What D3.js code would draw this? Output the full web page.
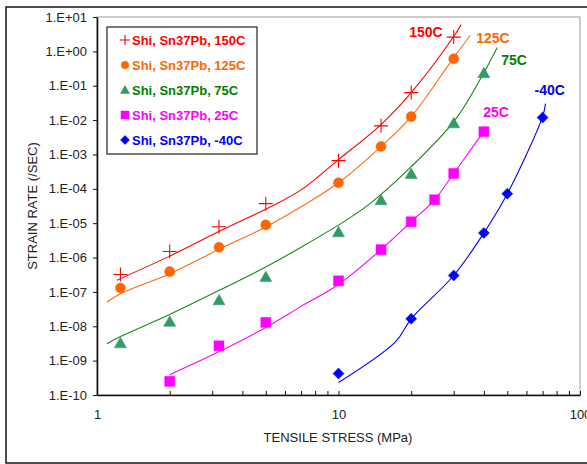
<!DOCTYPE html>
<html>
<head>
<meta charset="utf-8">
<script src="https://cdn.jsdelivr.net/npm/d3@7"></script>
<style>
body { margin:0; background:#fff; }
svg text { font-family: "Liberation Sans", Arial, sans-serif; }
</style>
</head>
<body>
<div id="chart"></div>
<script>
// measured points (stress MPa, strain rate /sec)
var stress150 = [1.25, 2, 3.2, 5, 10, 15, 20, 30];
var rate150 = [3.2e-7, 1.5e-6, 7.9e-6, 3.7e-5, 6.6e-4, 6.8e-3, 0.063, 2.6];
var stress125 = [1.25, 2, 3.2, 5, 10, 15, 20, 30];
var rate125 = [1.3e-7, 3.9e-7, 2.0e-6, 8.9e-6, 1.5e-4, 1.7e-3, 0.0126, 0.61];
var stress75 = [1.25, 2, 3.2, 5, 10, 15, 20, 30, 40];
var rate75 = [3.3e-9, 1.4e-8, 5.9e-8, 2.8e-7, 5.6e-6, 4.8e-5, 2.8e-4, 8.3e-3, 0.24];
var stress25 = [2, 3.2, 5, 10, 15, 20, 25, 30, 40];
var rate25 = [2.5e-10, 2.7e-9, 1.3e-8, 2.1e-7, 1.7e-6, 1.1e-5, 4.8e-5, 2.8e-4, 4.6e-3];
var stressM40 = [10, 20, 30, 40, 50, 70];
var rateM40 = [4.2e-10, 1.65e-8, 3.0e-7, 5.2e-6, 7.2e-5, 0.0118];

// fitted curves
var fit150 = [[1.21, 2.2e-7], [2, 1.1e-6], [3.24, 6.0e-6], [5.02, 2.6e-5], [7, 9.3e-5], [10, 7.1e-4], [15, 7.4e-3], [20, 0.063], [30, 2.7], [32.2, 6.0]];
var fit125 = [[1.1, 5.1e-8], [1.25, 8.9e-8], [2, 3.4e-7], [3.24, 1.8e-6], [5.02, 7.9e-6], [7, 3.0e-5], [10, 1.5e-4], [15, 1.7e-3], [20, 0.0126], [30, 0.66], [35.1, 2.9]];
var fit75 = [[1.1, 3.1e-9], [1.25, 5.0e-9], [2, 2.2e-8], [3.24, 1.15e-7], [5.02, 5.4e-7], [7, 2.0e-6], [10.66, 1.17e-5], [13.5, 3.7e-5], [20, 4.4e-4], [30.4, 0.0102], [40, 0.24], [45.4, 1.3]];
var fit25 = [[2, 3.9e-10], [3.24, 1.9e-9], [5.02, 9.4e-9], [7, 3.8e-8], [10, 1.65e-7], [15, 1.7e-6], [20, 1.1e-5], [25, 4.8e-5], [30, 2.8e-4], [40, 4.6e-3], [41.3, 6.0e-3]];
var fitM40 = [[10, 2.3e-10], [17.2, 3.5e-9], [20, 1.65e-8], [30, 3.0e-7], [40, 5.2e-6], [50, 7.2e-5], [70, 0.0126], [72, 0.030]];

var legendNames = ["Shi, Sn37Pb, 150C", "Shi, Sn37Pb, 125C", "Shi, Sn37Pb, 75C", "Shi, Sn37Pb, 25C", "Shi, Sn37Pb, -40C"];
var endLabels = ["150C", "125C", "75C", "25C", "-40C"];

var yTicks = [1e-10, 1e-9, 1e-8, 1e-7, 1e-6, 1e-5, 1e-4, 1e-3, 1e-2, 1e-1, 1, 10];
var yTickLabels = ["1.E-10", "1.E-09", "1.E-08", "1.E-07", "1.E-06", "1.E-05", "1.E-04", "1.E-03", "1.E-02", "1.E-01", "1.E+00", "1.E+01"];
var xTicks = [1, 2, 3, 4, 5, 6, 7, 8, 9, 10, 20, 30, 40, 50, 60, 70, 80, 90, 100];
var xTickLabels = {1: "1", 10: "10", 100: "100"};

var xTitle = "TENSILE STRESS (MPa)";
var yTitle = "STRAIN RATE (/SEC)";

var width = 587, height = 464;
var plotLeft = 97, plotRight = 580, plotTop = 17, plotBottom = 395;

var shapes = {
  plus: "M-7,0H7M0,-7V7",
  circle: d3.symbol().type(d3.symbolCircle).size(80)(),
  triangle: "M0,-5.5L6,5L-6,5Z",
  square: "M-5,-5H5V5H-5Z",
  diamond: "M0,-5.5L5.5,0L0,5.5L-5.5,0Z"
};
var smallShapes = {
  plus: "M-5,0H5M0,-5V5",
  circle: d3.symbol().type(d3.symbolCircle).size(45)(),
  triangle: "M0,-4.5L4.5,3.5L-4.5,3.5Z",
  square: "M-4,-4H4V4H-4Z",
  diamond: "M0,-4.5L4.5,0L0,4.5L-4.5,0Z"
};

var series = [
  {xs: stress150, ys: rate150, fit: fit150, shape: "plus", line: "#ff0000", mark: "#ff0000", text: "#ff0000", dx: -52, dy: 7},
  {xs: stress125, ys: rate125, fit: fit125, shape: "circle", line: "#ff6a13", mark: "#ff6600", text: "#ff6600", dx: 6, dy: 3},
  {xs: stress75, ys: rate75, fit: fit75, shape: "triangle", line: "#138a13", mark: "#339966", text: "#008000", dx: 4, dy: 13},
  {xs: stress25, ys: rate25, fit: fit25, shape: "square", line: "#ff00ff", mark: "#ff00ff", text: "#ff00ff", dx: -4, dy: -16},
  {xs: stressM40, ys: rateM40, fit: fitM40, shape: "diamond", line: "#0000ff", mark: "#0000ff", text: "#0000ff", dx: -11, dy: -14}
];

var x = d3.scaleLog().domain([1, 100]).range([plotLeft, plotRight]);
var y = d3.scaleLog().domain([1e-10, 10]).range([plotBottom, plotTop]);

var svg = d3.select("#chart").append("svg").attr("width", width).attr("height", height);

// outer frame
svg.append("rect").attr("x", 6).attr("y", 7).attr("width", 640).attr("height", 456)
  .attr("fill", "#fff").attr("stroke", "#222").attr("stroke-width", 1.6);

// plot frame
svg.append("rect").attr("x", plotLeft).attr("y", plotTop).attr("width", plotRight - plotLeft).attr("height", plotBottom - plotTop)
  .attr("fill", "none").attr("stroke", "#999").attr("stroke-width", 1);

// axes
svg.append("g").attr("transform", "translate(" + plotLeft + ",0)")
  .call(d3.axisLeft(y).tickValues(yTicks).tickFormat(function(d, i) { return yTickLabels[i]; })
    .tickSize(4).tickSizeOuter(0).tickPadding(6));
svg.append("g").attr("transform", "translate(0," + plotBottom + ")")
  .call(d3.axisBottom(x).tickValues(xTicks).tickFormat(function(d) { return xTickLabels[d] || ""; })
    .tickSize(-4).tickSizeOuter(0).tickPadding(15));
svg.selectAll(".domain").attr("stroke", "#111").attr("stroke-width", 1.6);
svg.selectAll(".tick line").attr("stroke", "#111");
svg.selectAll(".tick text").attr("font-size", 13).attr("fill", "#222")
  .attr("font-family", "'Liberation Sans', Arial, sans-serif");

svg.append("text").attr("x", 338).attr("y", 437).attr("dy", "0.35em").attr("text-anchor", "middle")
  .attr("font-size", 13).attr("fill", "#222").text(xTitle);
svg.append("text").attr("transform", "translate(32,206) rotate(-90)").attr("dy", "0.35em").attr("text-anchor", "middle")
  .attr("font-size", 13).attr("fill", "#222").text(yTitle);

// fit lines
var line = d3.line()
  .x(function(d) { return x(d[0]); })
  .y(function(d) { return y(d[1]); })
  .curve(d3.curveCatmullRom.alpha(0.5));

series.forEach(function(s, i) {
  svg.append("path").attr("d", line(s.fit))
    .attr("fill", "none").attr("stroke", s.line).attr("stroke-width", 1.1);

  svg.append("g").selectAll("path").data(s.xs).enter().append("path")
    .attr("transform", function(d, j) { return "translate(" + x(d) + "," + y(s.ys[j]) + ")"; })
    .attr("d", shapes[s.shape])
    .attr("fill", s.shape == "plus" ? "none" : s.mark)
    .attr("stroke", s.mark).attr("stroke-width", s.shape == "plus" ? 1.1 : 0.5);

  var last = s.fit[s.fit.length - 1];
  svg.append("text").attr("x", x(last[0]) + s.dx).attr("y", y(last[1]) + s.dy).attr("dy", "0.35em")
    .attr("font-size", 14).attr("font-weight", "bold").attr("fill", s.text).text(endLabels[i]);
});

// legend
var legend = svg.append("g").attr("transform", "translate(107,27)");
legend.append("rect").attr("width", 150).attr("height", 127)
  .attr("fill", "#fff").attr("stroke", "#333").attr("stroke-width", 1.3);
series.forEach(function(s, i) {
  var ly = 13 + i * 25;
  legend.append("path").attr("transform", "translate(18," + ly + ")")
    .attr("d", smallShapes[s.shape])
    .attr("fill", s.shape == "plus" ? "none" : s.mark)
    .attr("stroke", s.mark).attr("stroke-width", s.shape == "plus" ? 1.1 : 0.5);
  legend.append("text").attr("x", 25).attr("y", ly).attr("dy", "0.35em")
    .attr("font-size", 13).attr("font-weight", "bold").attr("fill", s.text).text(legendNames[i]);
});
</script>
</body>
</html>
